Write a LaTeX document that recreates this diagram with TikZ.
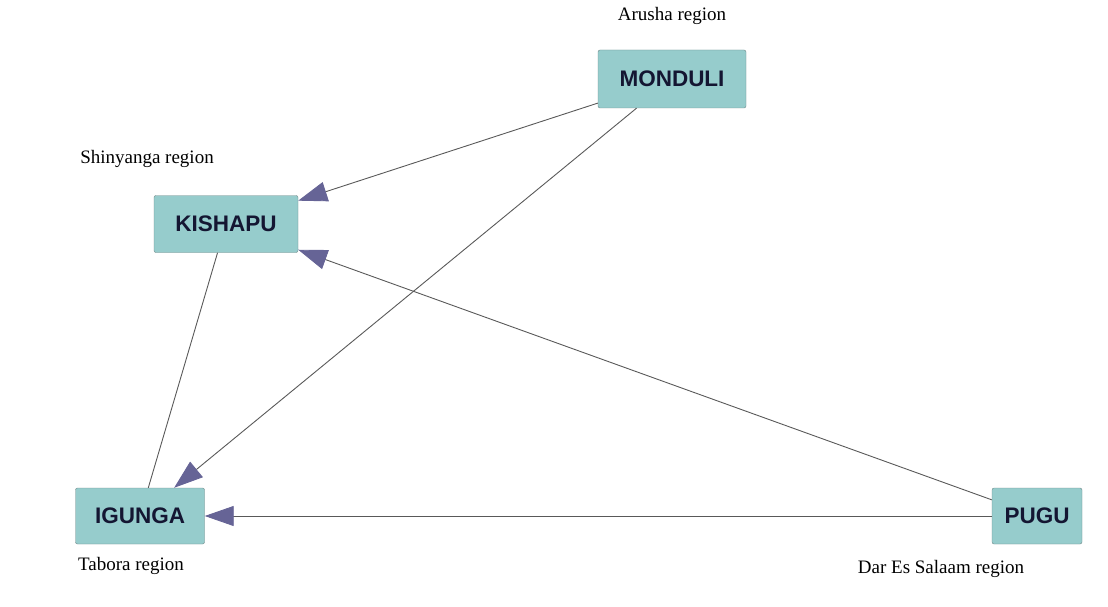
\documentclass[tikz,border=0pt]{standalone}
\usepackage{fontspec}
\setmainfont{Liberation Serif}
\newfontfamily\boxfont{Liberation Sans}
\usepackage{tikz}
\usetikzlibrary{arrows.meta}

\definecolor{boxfill}{RGB}{150,204,204}
\definecolor{boxline}{RGB}{110,135,135}
\definecolor{tipcol}{RGB}{102,100,150}
\definecolor{txtcol}{RGB}{20,22,50}

\begin{document}
\begin{tikzpicture}[x=1pt,y=-1pt,
    district/.style={draw=boxline, fill=boxfill, rounded corners=2pt, inner sep=0pt,
                     font=\boxfont\bfseries\fontsize{22.5}{22.5}\selectfont, text=txtcol},
    region/.style={font=\fontsize{19}{19}\selectfont, inner sep=0pt},
    link/.style={draw=black!65, line width=0.9pt,
                 -{Triangle[length=29pt,width=20pt,color=tipcol]}}]
          \useasboundingbox (0,0) rectangle (1108,607);
          \node[district, minimum width=148pt, minimum height=58pt] (mon) at (672,79) {MONDULI};
          \node[district, minimum width=144pt, minimum height=57pt] (kis) at (226,224) {KISHAPU};
          \node[district, minimum width=129pt, minimum height=56pt] (igu) at (140,516) {IGUNGA};
          \node[district, minimum width=90pt, minimum height=56pt] (pug) at (1037,516) {PUGU};
          % region names
          \node[region] (monreg) at (672,16) {Arusha region};
          \node[region] (kisreg) at (147,159) {Shinyanga region};
          \node[region] (igureg) at (131,566) {Tabora region};
          \node[region] (pugreg) at (941,569) {Dar Es Salaam region};
          % links
          \draw[link] (mon) -- (kis);
          \draw[link] (mon) -- (igu);
          \draw[link] (pug) -- (kis);
          \draw[link] (pug) -- (igu);
          \draw[draw=black!65, line width=0.9pt] (kis) -- (igu);
        \end{tikzpicture}
\end{document}
